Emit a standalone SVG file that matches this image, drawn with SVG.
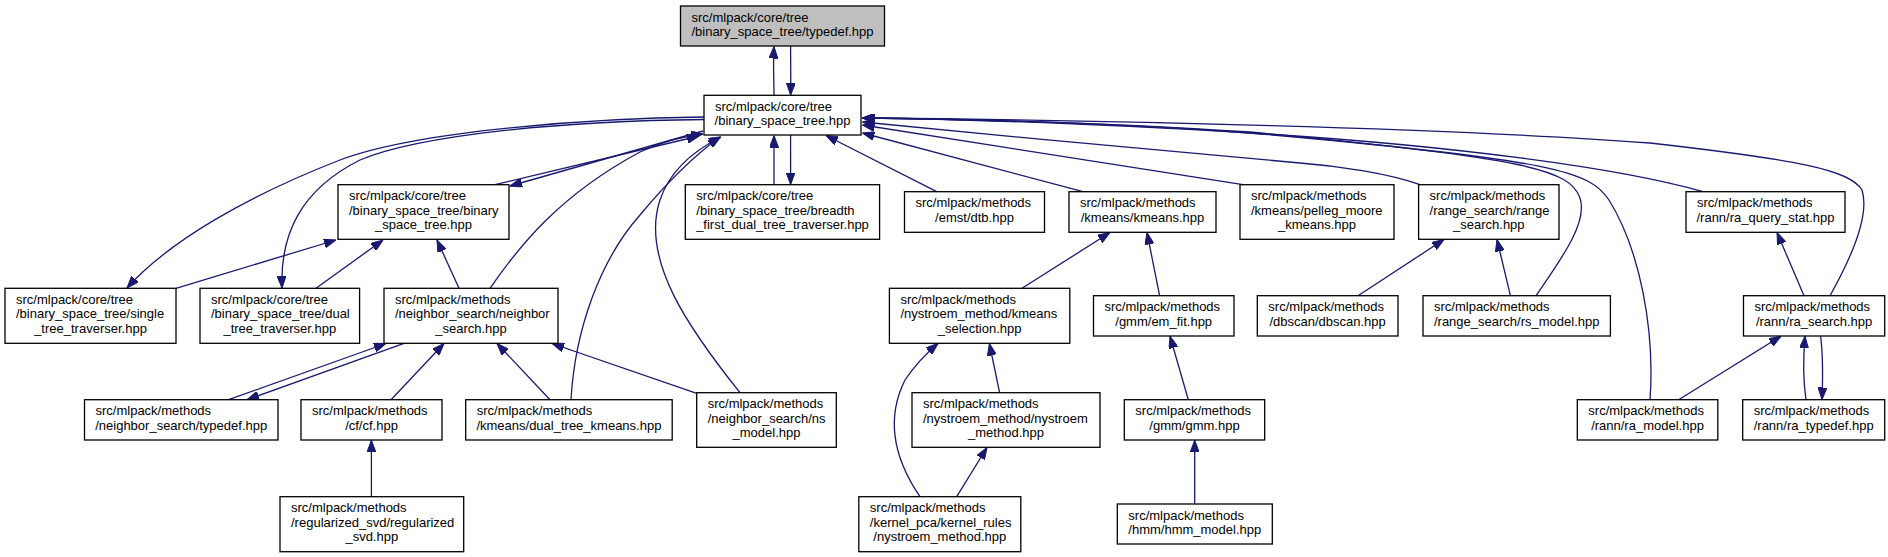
<svg xmlns="http://www.w3.org/2000/svg" width="1888" height="557" viewBox="0 0 1888 557">
<style>
.node rect{fill:#ffffff;stroke:#000000;stroke-width:1.3}
.node.root rect{fill:#bfbfbf}
.node text{font-family:"Liberation Sans",Arial,Helvetica,sans-serif;font-size:13px;fill:#000000}
.node text.c{text-anchor:middle}
.edges path{fill:none;stroke:#191970;stroke-width:1.3;marker-end:url(#ah)}
</style>
<defs>
<marker id="ah" markerUnits="userSpaceOnUse" markerWidth="12" markerHeight="9" refX="12" refY="4.5" orient="auto">
<path d="M0,0 L12,4.5 L0,9 z" fill="#191970" stroke="#191970" stroke-width="1"/>
</marker>
</defs>
<rect width="1888" height="557" fill="#ffffff"/>
<g class="edges" id="edges">
<path d="M774,95 C774,80 773,65 774,46.5"/>
<path d="M790.6,46 C790.6,62 791,78 790.6,95"/>
<path d="M495,184.7 L699,136"/>
<path d="M703,131 L510,186"/>
<path d="M774,184.7 L774,135.5"/>
<path d="M790.6,135 L790.6,184.5"/>
<path d="M936.7,191.7 L826,135.5"/>
<path d="M1083,191.7 L862.5,133"/>
<path d="M1243,184.7 L862.5,125"/>
<path d="M1420,184.7 C1390,174 1340,166 1300,163 C1180,152 1000,136 862.5,122"/>
<path d="M1536,295.7 C1562,258 1588,222 1580,198 C1570,170 1530,158 1250,132 C1100,122 950,119 862.5,118"/>
<path d="M1650,399.7 C1655,330 1640,250 1609,200 C1590,172 1560,160 1250,133 C1100,122 950,119 862.5,118"/>
<path d="M1703,191.7 C1620,168 1450,145 1250,133 C1100,124 950,119 862.5,118"/>
<path d="M1830,295.7 C1850,260 1870,215 1862,190 C1850,170 1800,160 1650,143 C1450,128 1100,120 862.5,118"/>
<path d="M704,117 C600,118 420,130 340,160 C250,195 170,240 127,288"/>
<path d="M704,119.5 C560,121 420,135 360,160 C300,190 280,235 282,288"/>
<path d="M176,288.3 L336,240"/>
<path d="M316,288.3 L383,240"/>
<path d="M459,288.3 L437,240"/>
<path d="M490,288.3 C520,245 560,195 640,152 C665,140 685,136 703,134"/>
<path d="M571,399.7 C575,330 600,260 640,215 C665,185 695,155 720,137"/>
<path d="M740,392.7 C690,330 640,260 660,200 C670,170 695,150 721,137"/>
<path d="M228.6,399.7 L386,343.5"/>
<path d="M404,343.3 L247,399.7"/>
<path d="M391,399.7 L444,343.5"/>
<path d="M550,399.7 L497,343.5"/>
<path d="M696.7,393.3 L552,343.5"/>
<path d="M371.4,496.7 L371.4,440.2"/>
<path d="M1022,288.3 L1110,232.5"/>
<path d="M1159.6,295.7 L1147,232.5"/>
<path d="M920,496.7 C895,460 885,420 905,380 C915,365 928,352 938,343.5"/>
<path d="M999.6,392.7 L989.4,343.5"/>
<path d="M956.7,496.7 L987,447.5"/>
<path d="M1188.3,399.7 L1170,336.2"/>
<path d="M1194.7,504 L1194.7,440.2"/>
<path d="M1358,295.7 L1444,239.5"/>
<path d="M1510.4,295.7 L1497,239.5"/>
<path d="M1804,295.7 L1777,232.5"/>
<path d="M1678.6,399.7 L1781,336.2"/>
<path d="M1806,399.7 C1803,380 1803,360 1805,336.2"/>
<path d="M1820.6,336 C1823,355 1823,375 1822,399.5"/>
</g>
<g class="node root" id="n_typedef"><rect x="680.5" y="6" width="204" height="40"/><text x="691.5" y="21.5">src/mlpack/core/tree</text><text class="c" x="782.5" y="36">/binary_space_tree/typedef.hpp</text></g>
<g class="node" id="n_bst"><rect x="704" y="95.3" width="157" height="39.7"/><text x="715" y="110.8">src/mlpack/core/tree</text><text class="c" x="782.5" y="125.3">/binary_space_tree.hpp</text></g>
<g class="node" id="n_bsbst"><rect x="338" y="184.7" width="171" height="54.6"/><text x="349" y="200">src/mlpack/core/tree</text><text x="349" y="214.7">/binary_space_tree/binary</text><text class="c" x="423.5" y="229">_space_tree.hpp</text></g>
<g class="node" id="n_breadth"><rect x="685.3" y="184.7" width="194.3" height="54.6"/><text x="696.3" y="200">src/mlpack/core/tree</text><text x="696.3" y="214.7">/binary_space_tree/breadth</text><text class="c" x="782.5" y="229">_first_dual_tree_traverser.hpp</text></g>
<g class="node" id="n_dtb"><rect x="904.5" y="191.7" width="140" height="40.6"/><text x="915.5" y="207.2">src/mlpack/methods</text><text class="c" x="974.5" y="221.7">/emst/dtb.hpp</text></g>
<g class="node" id="n_kmeans"><rect x="1069" y="191.7" width="147" height="40.6"/><text x="1080" y="207.2">src/mlpack/methods</text><text class="c" x="1142.5" y="221.7">/kmeans/kmeans.hpp</text></g>
<g class="node" id="n_pelleg"><rect x="1240" y="184.7" width="154" height="54.6"/><text x="1251" y="200">src/mlpack/methods</text><text x="1251" y="214.7">/kmeans/pelleg_moore</text><text class="c" x="1317" y="229">_kmeans.hpp</text></g>
<g class="node" id="n_rangesearch"><rect x="1418.6" y="184.7" width="140.4" height="54.6"/><text x="1429.6" y="200">src/mlpack/methods</text><text x="1429.6" y="214.7">/range_search/range</text><text class="c" x="1488.8" y="229">_search.hpp</text></g>
<g class="node" id="n_raquery"><rect x="1686" y="191.7" width="159" height="40.6"/><text x="1697" y="207.2">src/mlpack/methods</text><text class="c" x="1765.5" y="221.7">/rann/ra_query_stat.hpp</text></g>
<g class="node" id="n_single"><rect x="5" y="288.3" width="171" height="55"/><text x="16" y="303.8">src/mlpack/core/tree</text><text x="16" y="318.3">/binary_space_tree/single</text><text class="c" x="90.5" y="332.8">_tree_traverser.hpp</text></g>
<g class="node" id="n_dual"><rect x="200" y="288.3" width="159.6" height="55"/><text x="211" y="303.8">src/mlpack/core/tree</text><text x="211" y="318.3">/binary_space_tree/dual</text><text class="c" x="279.8" y="332.8">_tree_traverser.hpp</text></g>
<g class="node" id="n_nsearch"><rect x="384" y="288.3" width="174" height="55"/><text x="395" y="303.8">src/mlpack/methods</text><text x="395" y="318.3">/neighbor_search/neighbor</text><text class="c" x="471" y="332.8">_search.hpp</text></g>
<g class="node" id="n_kmsel"><rect x="889.4" y="288.3" width="180.4" height="55"/><text x="900.4" y="303.8">src/mlpack/methods</text><text x="900.4" y="318.3">/nystroem_method/kmeans</text><text class="c" x="979.6" y="332.8">_selection.hpp</text></g>
<g class="node" id="n_emfit"><rect x="1093.5" y="295.7" width="140.5" height="40.3"/><text x="1104.5" y="311.2">src/mlpack/methods</text><text class="c" x="1163.7" y="325.7">/gmm/em_fit.hpp</text></g>
<g class="node" id="n_dbscan"><rect x="1257.3" y="295.7" width="140.7" height="40.3"/><text x="1268.3" y="311.2">src/mlpack/methods</text><text class="c" x="1327.6" y="325.7">/dbscan/dbscan.hpp</text></g>
<g class="node" id="n_rsmodel"><rect x="1423" y="295.7" width="187.4" height="40.3"/><text x="1434" y="311.2">src/mlpack/methods</text><text class="c" x="1516.7" y="325.7">/range_search/rs_model.hpp</text></g>
<g class="node" id="n_rasearch"><rect x="1743.5" y="295.7" width="141.2" height="40.3"/><text x="1754.5" y="311.2">src/mlpack/methods</text><text class="c" x="1814.1" y="325.7">/rann/ra_search.hpp</text></g>
<g class="node" id="n_nstypedef"><rect x="84.5" y="399.7" width="193.5" height="40.3"/><text x="95.5" y="415.2">src/mlpack/methods</text><text class="c" x="181.2" y="429.7">/neighbor_search/typedef.hpp</text></g>
<g class="node" id="n_cf"><rect x="301" y="399.7" width="141" height="40.3"/><text x="312" y="415.2">src/mlpack/methods</text><text class="c" x="371.5" y="429.7">/cf/cf.hpp</text></g>
<g class="node" id="n_dtk"><rect x="465.7" y="399.7" width="206.5" height="40.3"/><text x="476.7" y="415.2">src/mlpack/methods</text><text class="c" x="568.9" y="429.7">/kmeans/dual_tree_kmeans.hpp</text></g>
<g class="node" id="n_nsmodel"><rect x="696.7" y="392.7" width="139.6" height="54.6"/><text x="707.7" y="408">src/mlpack/methods</text><text x="707.7" y="422.7">/neighbor_search/ns</text><text class="c" x="766.5" y="437">_model.hpp</text></g>
<g class="node" id="n_nystroem"><rect x="912" y="392.7" width="188" height="54.6"/><text x="923" y="408">src/mlpack/methods</text><text x="923" y="422.7">/nystroem_method/nystroem</text><text class="c" x="1006" y="437">_method.hpp</text></g>
<g class="node" id="n_gmm"><rect x="1124.3" y="399.7" width="140.4" height="40.3"/><text x="1135.3" y="415.2">src/mlpack/methods</text><text class="c" x="1194.5" y="429.7">/gmm/gmm.hpp</text></g>
<g class="node" id="n_ramodel"><rect x="1577.3" y="399.7" width="140.5" height="40.3"/><text x="1588.3" y="415.2">src/mlpack/methods</text><text class="c" x="1647.5" y="429.7">/rann/ra_model.hpp</text></g>
<g class="node" id="n_ratypedef"><rect x="1742.7" y="399.7" width="142" height="40.3"/><text x="1753.7" y="415.2">src/mlpack/methods</text><text class="c" x="1813.7" y="429.7">/rann/ra_typedef.hpp</text></g>
<g class="node" id="n_regsvd"><rect x="280" y="496.7" width="183.7" height="55"/><text x="291" y="512.2">src/mlpack/methods</text><text x="291" y="526.7">/regularized_svd/regularized</text><text class="c" x="371.8" y="541.2">_svd.hpp</text></g>
<g class="node" id="n_kernelrules"><rect x="858.8" y="496.7" width="162" height="55"/><text x="869.8" y="512.2">src/mlpack/methods</text><text x="869.8" y="526.7">/kernel_pca/kernel_rules</text><text class="c" x="939.8" y="541.2">/nystroem_method.hpp</text></g>
<g class="node" id="n_hmm"><rect x="1117.3" y="504" width="155" height="40"/><text x="1128.3" y="519.5">src/mlpack/methods</text><text class="c" x="1194.8" y="534">/hmm/hmm_model.hpp</text></g>
</svg>
